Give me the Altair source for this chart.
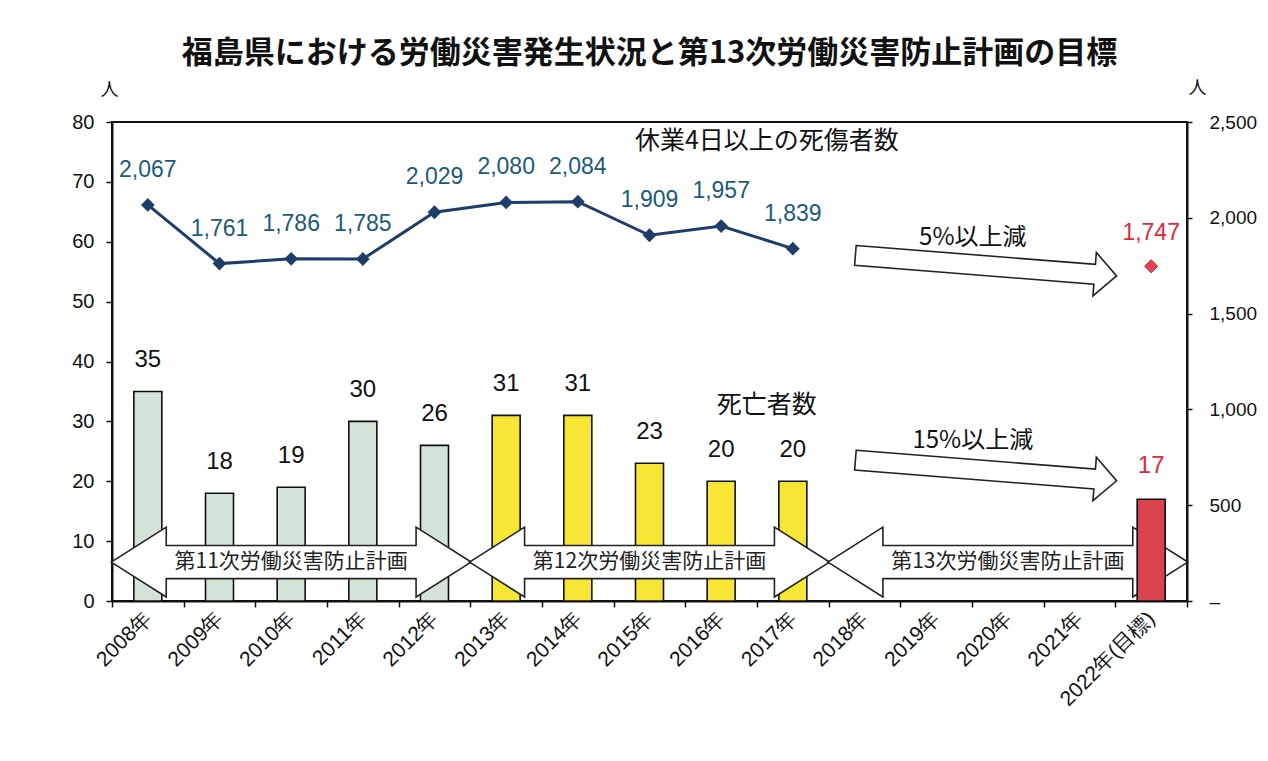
import altair as alt
import pandas as pd

# ---------------- data ----------------
years = ["2008年", "2009年", "2010年", "2011年", "2012年", "2013年", "2014年",
         "2015年", "2016年", "2017年", "2018年", "2019年", "2020年", "2021年",
         "2022年(目標)"]

death_years = ["2008年", "2009年", "2010年", "2011年", "2012年", "2013年", "2014年",
               "2015年", "2016年", "2017年", "2022年(目標)"]
deaths = [35, 18, 19, 30, 26, 31, 31, 23, 20, 20, 17]
death_group = ["第11次", "第11次", "第11次", "第11次", "第11次",
               "第12次", "第12次", "第12次", "第12次", "第12次", "目標"]

injury_years = ["2008年", "2009年", "2010年", "2011年", "2012年", "2013年", "2014年",
                "2015年", "2016年", "2017年"]
injuries = [2067, 1761, 1786, 1785, 2029, 2080, 2084, 1909, 1957, 1839]

target_year = ["2022年(目標)"]
target_injuries = [1747]

plan_names = ["第11次労働災害防止計画", "第12次労働災害防止計画", "第13次労働災害防止計画"]
plan_center = ["2010年", "2015年", "2020年"]
plan_level = [6.5, 6.5, 6.5]

reduce_text = ["5%以上減", "15%以上減"]
reduce_year = ["2020年", "2020年"]
reduce_arrow_level = [56.0, 21.8]
reduce_text_level = [60.7, 26.8]

series_text = ["休業4日以上の死傷者数", "死亡者数"]
series_year = ["2017年", "2017年"]
series_level = [76.8, 32.7]

left_ticks = [0, 10, 20, 30, 40, 50, 60, 70, 80]
right_ticks = [0, 500, 1000, 1500, 2000, 2500]

title_text = "福島県における労働災害発生状況と第13次労働災害防止計画の目標"

# ---------------- tables ----------------
bars_df = pd.DataFrame({"year": death_years, "v": deaths, "group": death_group})
line_df = pd.DataFrame({"year": injury_years, "n": injuries})
target_df = pd.DataFrame({"year": target_year, "n": target_injuries})
plan_df = pd.DataFrame({"year": plan_center, "v": plan_level, "name": plan_names})
red_arrow_df = pd.DataFrame({"year": reduce_year, "v": reduce_arrow_level})
red_text_df = pd.DataFrame({"year": reduce_year, "v": reduce_text_level, "t": reduce_text})
series_df = pd.DataFrame({"year": series_year, "v": series_level, "t": series_text})

JP = "Noto Sans CJK JP"
NUM = "Liberation Sans"

x_axis = alt.Axis(title=None, labelAngle=-45, labelAlign="right", labelBaseline="middle",
                  labelFont=NUM, labelFontSize=21, labelColor="#111", labelPadding=8,
                  tickBand="extent", tickSize=6, tickColor="#111", tickWidth=1.5,
                  domainColor="#111", domainWidth=2, labelLimit=300)
x_scale = alt.Scale(domain=years, paddingInner=0, paddingOuter=0)


def X():
    return alt.X("year:N", sort=years, scale=x_scale, axis=x_axis)


left_scale = alt.Scale(domain=[0, 80], nice=False, zero=True)
right_scale = alt.Scale(domain=[0, 2500], nice=False, zero=True)

y_left_axis = alt.Axis(values=left_ticks, title="人", titleAngle=0, titleX=-3, titleY=-32,
                       titleFont=JP, titleFontSize=18, titleFontWeight="normal", titleAlign="center",
                       titleBaseline="middle", titleColor="#111",
                       labelFont=NUM, labelFontSize=20, labelColor="#111", labelPadding=12,
                       tickSize=6, tickColor="#111", tickWidth=1.5, domainColor="#111",
                       domainWidth=2, grid=False)

y_right_axis = alt.Axis(orient="right", values=right_ticks,
                        labelExpr="datum.value == 0 ? '\u2013' : format(datum.value, ',')",
                        title="人", titleAngle=0, titleX=10, titleY=-34,
                        titleFont=JP, titleFontSize=18, titleFontWeight="normal", titleAlign="center",
                        titleBaseline="middle", titleColor="#111",
                        labelFont=NUM, labelFontSize=19, labelColor="#111", labelPadding=17,
                        tickSize=5, tickColor="#111", tickWidth=1.5, domainColor="#111",
                        domainWidth=2, grid=False)


def YL():
    return alt.Y("v:Q", scale=left_scale, axis=y_left_axis, title="人")


def YR():
    return alt.Y("n:Q", scale=right_scale, axis=y_right_axis, title="人")


bar_colors = alt.Scale(domain=["第11次", "第12次", "目標"], range=["#d3e3d7", "#f8e637", "#d9434e"])

# ---- left (deaths) layers ----
bars_main = alt.Chart(bars_df).transform_filter("datum.group != '目標'").mark_bar(
    size=28, stroke="#111", strokeWidth=1.6).encode(
    x=X(), y=YL(), color=alt.Color("group:N", scale=bar_colors, legend=None))

bar_labels = alt.Chart(bars_df).transform_filter("datum.group != '目標'").mark_text(
    font=NUM, fontSize=24, color="#111", baseline="middle", dy=-31).encode(
    x=X(), y=YL(), text="v:Q")

plan_path = ("M -1 0 L -0.694 -0.194 L -0.694 -0.092 L 0.694 -0.092 L 0.694 -0.194 L 1 0 "
             "L 0.694 0.194 L 0.694 0.092 L -0.694 0.092 L -0.694 0.194 Z")
plan_arrows = alt.Chart(plan_df).mark_point(
    shape=plan_path, size=360 * 360, filled=True, fill="white", stroke="#222",
    strokeWidth=1.6, opacity=1, fillOpacity=1).encode(x=X(), y=YL())

plan_labels = alt.Chart(plan_df).mark_text(font=JP, fontSize=21, color="#222", baseline="middle").encode(
    x=X(), y=YL(), text="name:N")

red_bar = alt.Chart(bars_df).transform_filter("datum.group == '目標'").mark_bar(
    size=28, stroke="#111", strokeWidth=1.6).encode(
    x=X(), y=YL(), color=alt.Color("group:N", scale=bar_colors, legend=None))

red_bar_label = alt.Chart(bars_df).transform_filter("datum.group == '目標'").mark_text(
    font=NUM, fontSize=24, color="#e0283a", baseline="middle", dy=-33).encode(
    x=X(), y=YL(), text="v:Q")

diag_path = "M -1 -0.076 L 0.832 -0.076 L 0.832 -0.166 L 1 0 L 0.832 0.166 L 0.832 0.076 L -1 0.076 Z"
diag_arrows = alt.Chart(red_arrow_df).mark_point(
    shape=diag_path, size=262 * 262, angle=4.5, filled=True, fill="white", stroke="#222",
    strokeWidth=1.6, opacity=1, fillOpacity=1).encode(
    x=X(), xOffset=alt.value(14), y=YL())

diag_labels = alt.Chart(red_text_df).mark_text(font=JP, fontSize=24, color="#111", baseline="middle",
                                               dx=-35).encode(
    x=X(), y=YL(), text="t:N")

series_labels = alt.Chart(series_df).mark_text(font=JP, fontSize=25, color="#111", baseline="middle",
                                               dx=-26).encode(
    x=X(), y=YL(), text="t:N")

left = alt.layer(bars_main, bar_labels, plan_arrows, plan_labels, red_bar, red_bar_label,
                 diag_arrows, diag_labels, series_labels)

# ---- right (injuries) layers ----
line = alt.Chart(line_df).mark_line(color="#1f3d6b", strokeWidth=3).encode(x=X(), y=YR())
pts = alt.Chart(line_df).mark_point(shape="diamond", filled=True, size=190, color="#1f3d6b",
                                    opacity=1).encode(x=X(), y=YR())
line_labels = alt.Chart(line_df).mark_text(font=NUM, fontSize=23, color="#1b5a7a", baseline="middle",
                                           dy=-35).encode(
    x=X(), y=YR(), text=alt.Text("n:Q", format=","))
target_pt = alt.Chart(target_df).mark_point(shape="diamond", filled=True, size=170, fill="#e04553",
                                            stroke="#b8202c", strokeWidth=1, opacity=1).encode(
    x=X(), y=YR())
target_label = alt.Chart(target_df).mark_text(font=NUM, fontSize=23, color="#e0283a", baseline="middle",
                                              dy=-33).encode(
    x=X(), y=YR(), text=alt.Text("n:Q", format=","))

right = alt.layer(line, pts, line_labels, target_pt, target_label)

chart = alt.layer(left, right).resolve_scale(y="independent").properties(
    width=1075, height=479,
    autosize=alt.AutoSizeParams(type="none"),
    padding={"left": 104, "top": 114, "right": 73, "bottom": 148},
    background="white",
    title=alt.Title(title_text, font=JP, fontSize=31, fontWeight="bold", color="#111",
                    anchor="middle", offset=9),
).configure_view(stroke="#111", strokeWidth=2)

chart.save("out.html", embed_options={"renderer": "svg", "actions": False})
